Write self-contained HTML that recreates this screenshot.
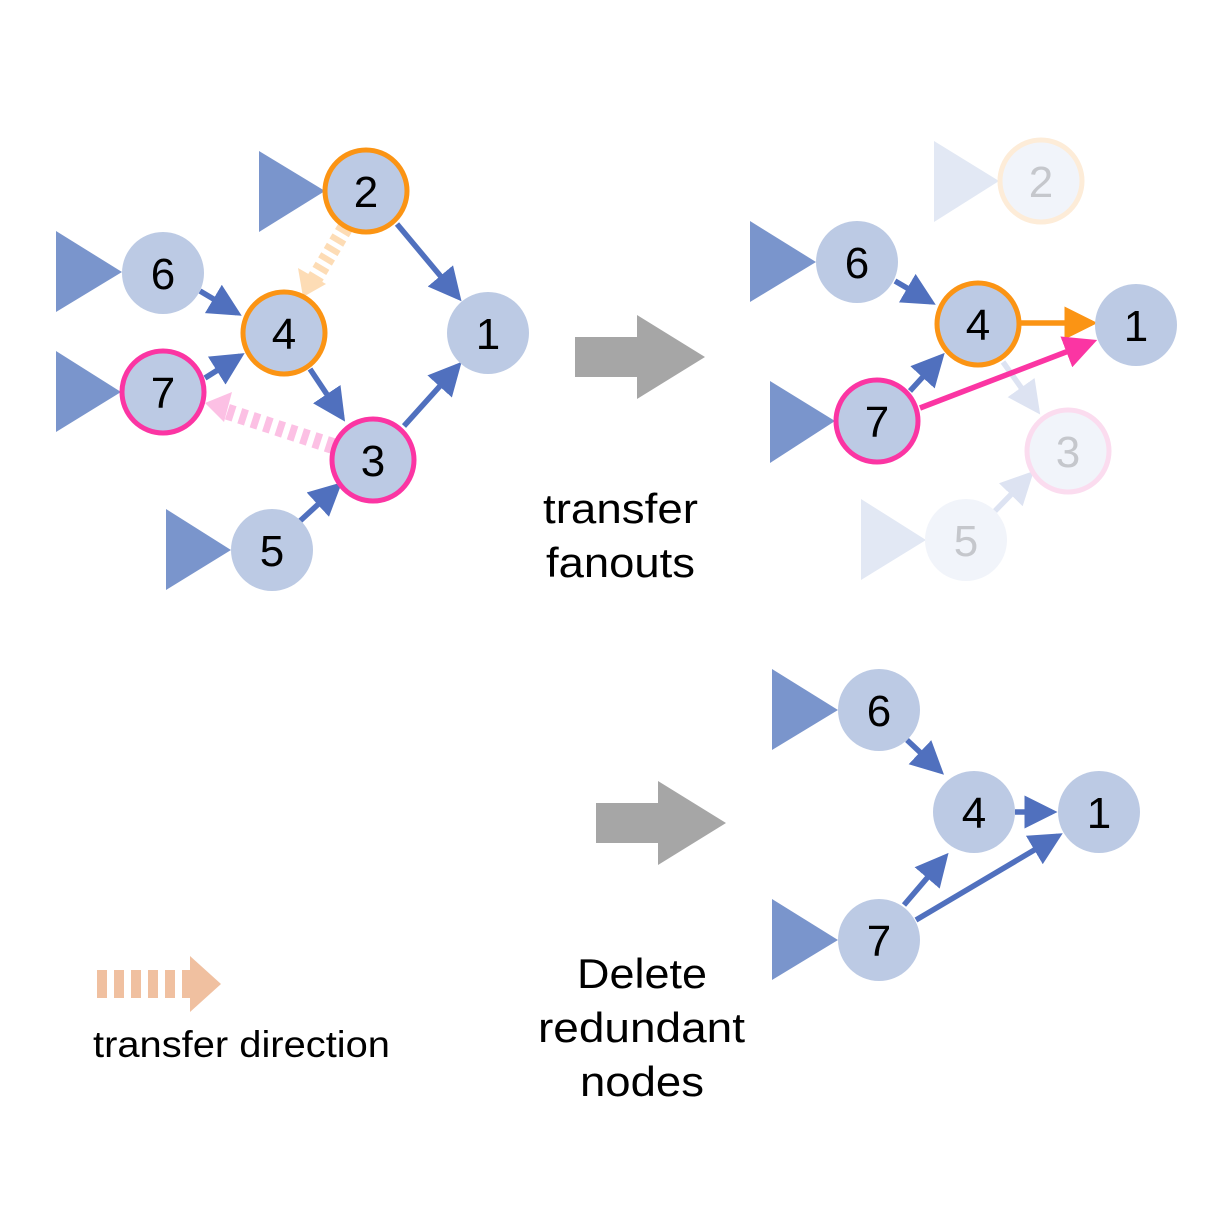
<!DOCTYPE html>
<html><head><style>body{margin:0;background:#fff}svg{display:block}</style></head><body>
<svg width="1222" height="1220" viewBox="0 0 1222 1220" xmlns="http://www.w3.org/2000/svg" font-family="Liberation Sans, Arial, sans-serif">
<defs>
<marker id="b" markerWidth="6" markerHeight="6" refX="5" refY="3" orient="auto" markerUnits="strokeWidth"><path d="M0,0L6,3L0,6z" fill="#5070be"/></marker>
<marker id="o" markerWidth="6" markerHeight="6" refX="5" refY="3" orient="auto" markerUnits="strokeWidth"><path d="M0,0L6,3L0,6z" fill="#fb9414"/></marker>
<marker id="p" markerWidth="6" markerHeight="6" refX="5" refY="3" orient="auto" markerUnits="strokeWidth"><path d="M0,0L6,3L0,6z" fill="#fb35a3"/></marker>
<marker id="f" markerWidth="6" markerHeight="6" refX="5" refY="3" orient="auto" markerUnits="strokeWidth"><path d="M0,0L6,3L0,6z" fill="#dde3f2"/></marker>
</defs>
<g fill="#7a95cc">
<polygon points="259,151 259,232 325,191"/><polygon points="56,231 56,312 122,272"/><polygon points="56,351 56,432 121,392"/><polygon points="166,509 166,590 231,550"/>
<polygon points="750,221 750,302 816,262"/><polygon points="770,381 770,463 835,421"/>
<polygon points="772,669 772,750 838,710"/><polygon points="772,899 772,980 838,940"/>
</g>
<g fill="#e2e8f4"><polygon points="934,141 934,222 999,181"/><polygon points="861,499 861,580 926,540"/></g>
<g stroke="#5070be" stroke-width="5.5" fill="none" marker-end="url(#b)">
<line x1="397" y1="224" x2="458" y2="297"/>
<line x1="200" y1="291" x2="237" y2="313"/>
<line x1="205" y1="378" x2="240" y2="356"/>
<line x1="310" y1="369" x2="342" y2="417"/>
<line x1="404" y1="426" x2="458" y2="366"/>
<line x1="300" y1="521" x2="338" y2="486"/>
</g>
<line x1="345" y1="228" x2="314" y2="280" stroke="#fddcb5" stroke-width="16" stroke-dasharray="6,5"/>
<polygon points="303,297 298,268 326,284" fill="#fddcb5"/>
<line x1="333" y1="446" x2="222" y2="410" stroke="#fcc0e4" stroke-width="16" stroke-dasharray="7,6"/>
<polygon points="205,403 232,392 224,422" fill="#fcc0e4"/>
<g stroke-width="5.5" fill="none">
<line x1="895" y1="281" x2="931" y2="302" stroke="#5070be" marker-end="url(#b)"/>
<line x1="910" y1="391" x2="941" y2="357" stroke="#5070be" marker-end="url(#b)"/>
<line x1="1003" y1="362" x2="1037" y2="410" stroke="#dde3f2" marker-end="url(#f)"/>
<line x1="995" y1="511" x2="1030" y2="475" stroke="#dde3f2" marker-end="url(#f)"/>
<line x1="1020" y1="323" x2="1092" y2="323" stroke="#fb9414" marker-end="url(#o)"/>
<line x1="920" y1="408" x2="1092" y2="342" stroke="#fb35a3" marker-end="url(#p)"/>
</g>
<g stroke="#5070be" stroke-width="5.5" fill="none" marker-end="url(#b)">
<line x1="907" y1="740" x2="940" y2="771"/>
<line x1="1015" y1="812" x2="1052" y2="812"/>
<line x1="904" y1="905" x2="945" y2="857"/>
<line x1="916" y1="920" x2="1058" y2="836"/>
</g>
<g font-size="44" text-anchor="middle">
<circle cx="488" cy="333" r="41" fill="#bccae4"/><text x="488" y="349">1</text>
<circle cx="366" cy="191" r="41" fill="#bccae4" stroke="#fb9414" stroke-width="5"/><text x="366" y="207">2</text>
<circle cx="163" cy="273" r="41" fill="#bccae4"/><text x="163" y="289">6</text>
<circle cx="284" cy="333" r="41" fill="#bccae4" stroke="#fb9414" stroke-width="5"/><text x="284" y="349">4</text>
<circle cx="163" cy="392" r="41" fill="#bccae4" stroke="#fb35a3" stroke-width="5"/><text x="163" y="408">7</text>
<circle cx="373" cy="460" r="41" fill="#bccae4" stroke="#fb35a3" stroke-width="5"/><text x="373" y="476">3</text>
<circle cx="272" cy="550" r="41" fill="#bccae4"/><text x="272" y="566">5</text>
<circle cx="1041" cy="181" r="41" fill="#f1f4fa" stroke="#fdecd8" stroke-width="5"/><text x="1041" y="197" fill="#c5c7cc">2</text>
<circle cx="1068" cy="451" r="41" fill="#f1f4fa" stroke="#fbdcef" stroke-width="5"/><text x="1068" y="467" fill="#c5c7cc">3</text>
<circle cx="966" cy="540" r="41" fill="#f1f4fa"/><text x="966" y="556" fill="#c5c7cc">5</text>
<circle cx="857" cy="262" r="41" fill="#bccae4"/><text x="857" y="278">6</text>
<circle cx="978" cy="324" r="41" fill="#bccae4" stroke="#fb9414" stroke-width="5"/><text x="978" y="340">4</text>
<circle cx="1136" cy="325" r="41" fill="#bccae4"/><text x="1136" y="341">1</text>
<circle cx="877" cy="421" r="41" fill="#bccae4" stroke="#fb35a3" stroke-width="5"/><text x="877" y="437">7</text>
<circle cx="879" cy="710" r="41" fill="#bccae4"/><text x="879" y="726">6</text>
<circle cx="974" cy="812" r="41" fill="#bccae4"/><text x="974" y="828">4</text>
<circle cx="1099" cy="812" r="41" fill="#bccae4"/><text x="1099" y="828">1</text>
<circle cx="879" cy="940" r="41" fill="#bccae4"/><text x="879" y="956">7</text>
</g>
<polygon points="575,337 637,337 637,315 705,357 637,399 637,377 575,377" fill="#a6a6a6"/>
<polygon points="596,803 658,803 658,781 726,823 658,865 658,843 596,843" fill="#a6a6a6"/>
<line x1="97" y1="984" x2="190" y2="984" stroke="#f0c0a0" stroke-width="28" stroke-dasharray="10,7"/>
<polygon points="190,956 221,984 190,1012" fill="#f0c0a0"/>
<g font-size="42">
<text x="543" y="523" textLength="155" lengthAdjust="spacingAndGlyphs">transfer</text>
<text x="546" y="577" textLength="149" lengthAdjust="spacingAndGlyphs">fanouts</text>
<text x="577" y="988" textLength="130" lengthAdjust="spacingAndGlyphs">Delete</text>
<text x="538" y="1042" textLength="207" lengthAdjust="spacingAndGlyphs">redundant</text>
<text x="580" y="1096" textLength="124" lengthAdjust="spacingAndGlyphs">nodes</text>
</g>
<text x="93" y="1057" font-size="37" textLength="297" lengthAdjust="spacingAndGlyphs">transfer direction</text>
</svg>
</body></html>
